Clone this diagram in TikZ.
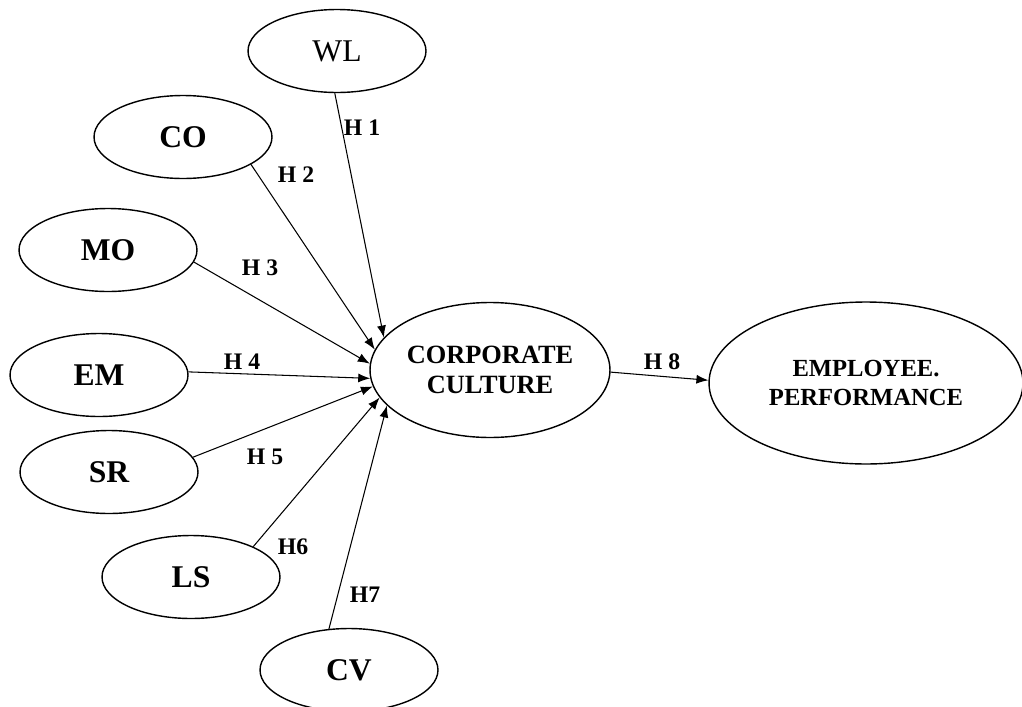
\documentclass[tikz,border=0pt]{standalone}
\usepackage{fontspec}
\setmainfont{Liberation Serif}
\usetikzlibrary{shapes.geometric,arrows.meta}
\tikzset{
  factor/.style={ellipse, draw, line width=0.8pt, inner sep=0pt,
    minimum width=3.56cm, minimum height=1.66cm,
    font=\fontsize{18}{20}\selectfont\bfseries},
  construct/.style={ellipse, draw, line width=0.8pt, inner sep=0pt, align=center,
    font=\fontsize{14}{16.5}\selectfont\bfseries},
  hyp/.style={-{Latex[length=2.4mm,width=1.8mm]}, line width=0.6pt},
  hlabel/.style={font=\fontsize{13.5}{15}\selectfont\bfseries}
}
\begin{document}
\begin{tikzpicture}[x=0.02cm,y=-0.02cm]
\useasboundingbox (0,0) rectangle (1022,707);
% Central constructs
\node[construct, minimum width=4.8cm, minimum height=2.7cm,
  font=\fontsize{15}{17.5}\selectfont\bfseries] (cc) at (490,370) {CORPORATE\\CULTURE};
\node[construct, minimum width=6.28cm, minimum height=3.24cm] (ep) at (866,383) {EMPLOYEE.\\PERFORMANCE};
% Factors
\node[factor, font=\fontsize{18}{20}\selectfont] (wl) at (337,51) {WL};
\node[factor] (co) at (183,137) {CO};
\node[factor] (mo) at (108,250) {MO};
\node[factor] (em) at (99,375) {EM};
\node[factor] (sr) at (109,472) {SR};
\node[factor] (ls) at (191,577) {LS};
\node[factor] (cv) at (349,670) {CV};
% Hypotheses
\draw[hyp] (wl.-93) -- (cc.163);
\draw[hyp] (co.-22) -- (cc.170);
\draw[hyp] (mo.-8) -- (cc.177);
\draw[hyp] (em.2) -- (cc.184);
\draw[hyp] (sr.10) -- (cc.188);
\draw[hyp] (ls.26) -- (cc.194);
\draw[hyp] (cv.116) -- (cc.199);
\draw[hyp] (cc.-1) -- (ep.179);
% Labels
\node[hlabel] (h1) at (362,128) {H 1};
\node[hlabel] (h2) at (296,175) {H 2};
\node[hlabel] (h3) at (260,268) {H 3};
\node[hlabel] (h4) at (242,362) {H 4};
\node[hlabel] (h5) at (265,457) {H 5};
\node[hlabel] (h6) at (293,547) {H6};
\node[hlabel] (h7) at (365,595) {H7};
\node[hlabel] (h8) at (662,362) {H 8};
\end{tikzpicture}
\end{document}
